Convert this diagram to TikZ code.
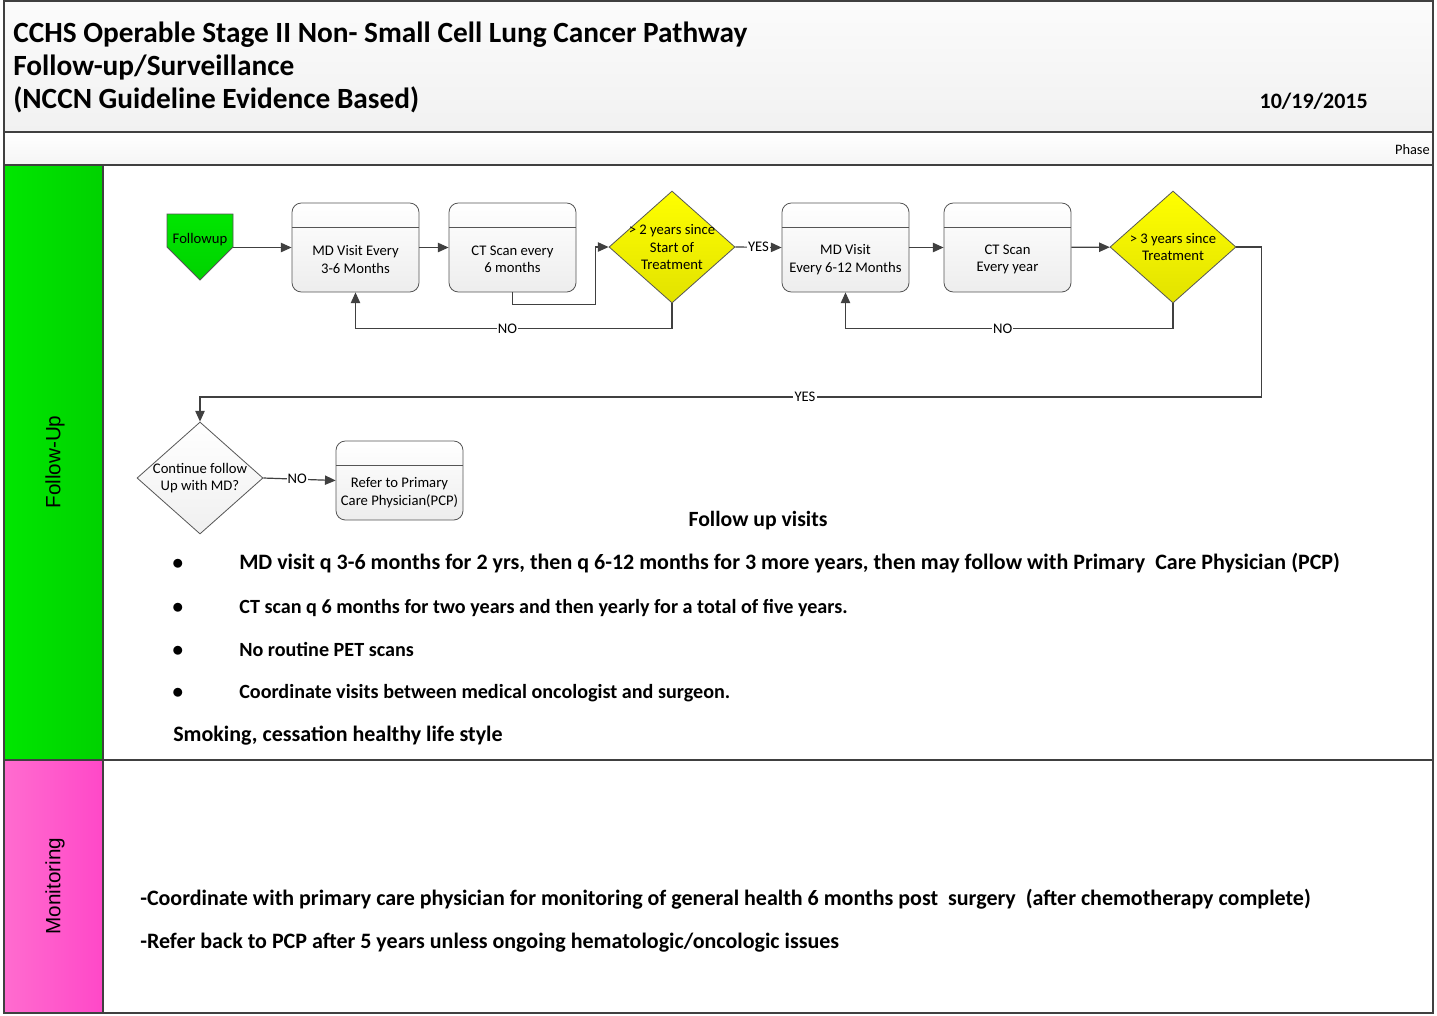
\documentclass[tikz,border=0pt]{standalone}
\usepackage{fontspec}
\setmainfont{Carlito}
\newfontfamily\lanefont{Liberation Sans}
\usetikzlibrary{shapes.geometric,shapes.symbols,arrows.meta}

\definecolor{lineGray}{HTML}{404040}
\definecolor{boxGray}{HTML}{555555}
\definecolor{laneGreen}{HTML}{00E600}
\definecolor{laneGreenDk}{HTML}{00D200}
\definecolor{lanePink}{HTML}{FF6CCF}
\definecolor{lanePinkDk}{HTML}{FF48C8}
\definecolor{askYellow}{HTML}{FFFF00}
\definecolor{askYellowDk}{HTML}{E2E200}

\begin{document}
\begin{tikzpicture}
[x=0.75pt, y=-0.75pt,
every node/.style = {font=\fontsize{11}{13}\selectfont, align=center},
frame/.style = {draw=lineGray, line width=0.8pt},
line/.style = {draw=lineGray, line width=0.9pt},
arr/.style = {line, -{Triangle[length=8pt,width=7pt]}},
lbl/.style = {fill=white, inner sep=0.8pt},
stepbox/.style = {draw=boxGray, line width=0.6pt, rounded corners=7pt,
	top color=white, bottom color=gray!14,
	minimum width=95.25pt, minimum height=66.75pt,
	path picture={\draw[boxGray, line width=0.6pt]
		([yshift=-18pt]path picture bounding box.north west) --
		([yshift=-18pt]path picture bounding box.north east);},
	label={[yshift=-9pt, align=center]center:#1}},
askbox/.style = {diamond, draw=boxGray, line width=0.6pt, inner sep=-12pt,
	minimum width=94.5pt, minimum height=84pt},
point/.style = {anchor=base west, inner xsep=0pt, font=\bfseries\fontsize{16.5}{18}\selectfont},
]
\useasboundingbox (0,0) rectangle (1437,1015);
% page and lanes
\fill[white] (0,0) rectangle (1437,1015);
\draw[frame, top color=gray!3, bottom color=gray!11] (4,1) rectangle (1433,132);
\draw[frame, top color=white, bottom color=gray!8] (4,132) rectangle (1433,165);
\draw[frame, left color=laneGreen, right color=laneGreenDk] (4,165) rectangle (103,760);
\draw[frame] (103,165) rectangle (1433,760);
\draw[frame, left color=lanePink, right color=lanePinkDk] (4,760) rectangle (103,1013);
\draw[frame] (103,760) rectangle (1433,1013);

\node[anchor=base west, inner xsep=0pt, align=left, font=\bfseries\fontsize{22}{24.75}\selectfont] (title) at (13,108)
	{CCHS Operable Stage II Non- Small Cell Lung Cancer Pathway\\
	Follow-up/Surveillance\\
	(NCCN Guideline Evidence Based)};
\node[anchor=base east, inner xsep=0pt, font=\bfseries\fontsize{16.5}{18}\selectfont] (date) at (1368,108) {10/19/2015};
\node[anchor=base east, inner xsep=0pt, font=\fontsize{10.8}{12}\selectfont] (phase) at (1430,154) {Phase};
\node[rotate=90, font=\lanefont\fontsize{15.5}{17}\selectfont] (laneA) at (55,462) {Follow-Up};
\node[rotate=90, font=\lanefont\fontsize{15.5}{17}\selectfont] (laneB) at (55,886) {Monitoring};

% flow
\node[signal, signal to=south, signal pointer angle=90, draw=boxGray, line width=0.6pt,
	top color=laneGreen, bottom color=laneGreenDk, inner xsep=3pt, inner ysep=2pt,
	text height=19.75pt, text depth=1pt, minimum width=49.5pt, anchor=base] (fu) at (200,243) {Followup};
\node[stepbox={MD Visit Every\\3-6 Months}] (md1) at (355.5,247.5) {};
\node[stepbox={CT Scan every\\6 months}] (ct1) at (512.5,247.5) {};
\node[askbox, top color=askYellow, bottom color=askYellowDk] (d1) at (672,247)
	{> 2 years since\\Start of\\Treatment};
\node[stepbox={MD Visit\\Every 6-12 Months}] (md2) at (845.5,247.5) {};
\node[stepbox={CT Scan\\Every year}] (ct2) at (1007.5,247.5) {};
\node[askbox, top color=askYellow, bottom color=askYellowDk] (d2) at (1173,247)
	{> 3 years since\\Treatment};
\node[askbox, top color=white, bottom color=gray!12] (d3) at (200,478)
	{Continue follow\\Up with MD?};
\node[stepbox={Refer to Primary\\Care Physician(PCP)}, minimum height=59.25pt] (ref) at (399.5,480.5) {};

\draw[arr] (fu.east |- md1.west) -- (md1.west);
\draw[arr] (md1) -- (ct1);
\draw[arr] (ct1.south) -- ++(0,12) -| ([xshift=-9.75pt]d1.west) -- (d1.west);
\draw[arr] (d1.south) -- ++(0,25) -| node[pos=0.26, lbl] {NO} (md1.south);
\draw[arr] (d1.east) -- node[lbl] {YES} (md2.west);
\draw[arr] (md2) -- (ct2);
\draw[arr] (ct2) -- (d2);
\draw[arr] (d2.south) -- ++(0,25) -| node[pos=0.26, lbl] {NO} (md2.south);
\draw[arr] (d2.east) -| ++(25,150) -| node[pos=0.215, lbl] {YES} (d3.north);
\draw[arr] (d3.east) -- node[pos=0.47, lbl] {NO} (ref.west);

% notes
\node[anchor=base, font=\bfseries\fontsize{16.3}{18}\selectfont] (visits) at (758,526) {Follow up visits};
\foreach \y/\fs/\txt in {569/16.5/{MD visit q 3-6 months for 2 yrs, then q 6-12 months for 3 more years, then may follow with Primary\ \ Care Physician (PCP)},
	613/15.1/{CT scan q 6 months for two years and then yearly for a total of five years.},
	656/15.1/{No routine PET scans},
	698/15.1/{Coordinate visits between medical oncologist and surgeon.}}{
	\node[point, anchor=base] at (178,\y) {$\bullet$};
	\node[point, font=\bfseries\fontsize{\fs}{18}\selectfont] at (239,\y) {\txt};
}
\node[point] (smoke) at (173,741) {Smoking, cessation healthy life style};
\node[point] (mon1) at (140,905) {-Coordinate with primary care physician for monitoring of general health 6 months post\ \ surgery\ \ (after chemotherapy complete)};
\node[point] (mon2) at (140,948) {-Refer back to PCP after 5 years unless ongoing hematologic/oncologic issues};
\end{tikzpicture}
\end{document}
